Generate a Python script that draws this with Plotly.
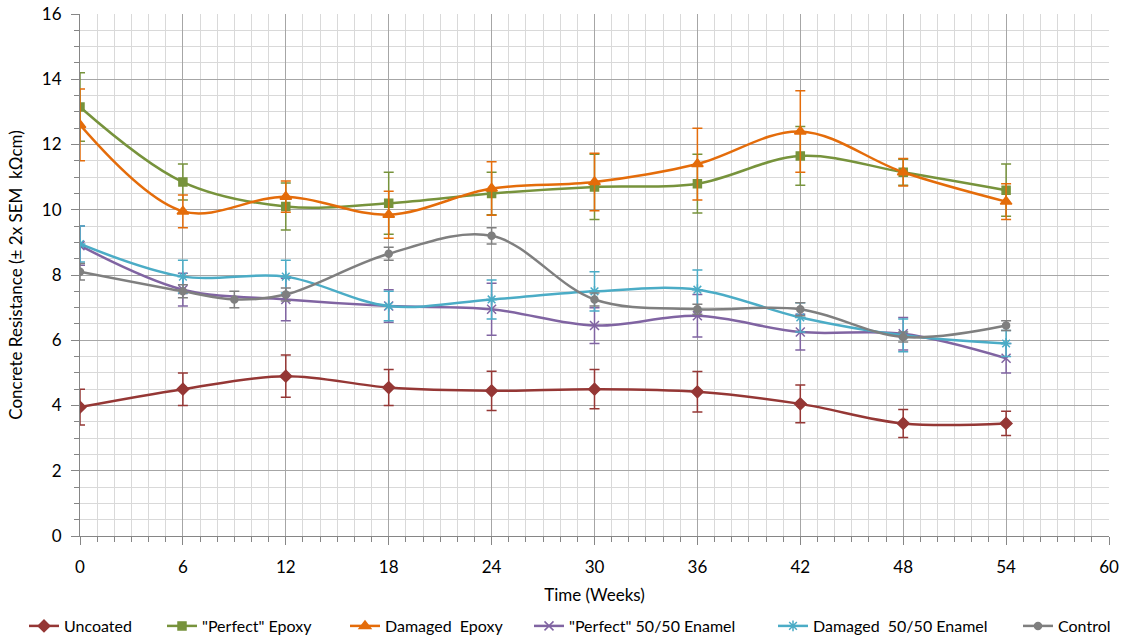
import plotly.graph_objects as go

weeks = [0, 6, 12, 18, 24, 30, 36, 42, 48, 54]
control_weeks = [0, 6, 9, 12, 18, 24, 30, 36, 42, 48, 54]

uncoated = [3.95, 4.5, 4.9, 4.55, 4.45, 4.5, 4.42, 4.05, 3.45, 3.45]
uncoated_err = [0.55, 0.5, 0.65, 0.55, 0.6, 0.6, 0.62, 0.58, 0.43, 0.37]

perfect_epoxy = [13.15, 10.85, 10.1, 10.2, 10.5, 10.7, 10.8, 11.65, 11.15, 10.6]
perfect_epoxy_err = [1.05, 0.55, 0.72, 0.95, 0.65, 1.0, 0.9, 0.9, 0.4, 0.8]

damaged_epoxy = [12.6, 9.95, 10.4, 9.85, 10.65, 10.85, 11.4, 12.4, 11.15, 10.25]
damaged_epoxy_err = [1.1, 0.5, 0.48, 0.72, 0.82, 0.88, 1.1, 1.25, 0.42, 0.55]

perfect_enamel = [8.9, 7.55, 7.25, 7.05, 6.95, 6.45, 6.75, 6.25, 6.2, 5.45]
perfect_enamel_err = [0.6, 0.5, 0.65, 0.5, 0.8, 0.55, 0.65, 0.55, 0.5, 0.45]

damaged_enamel = [8.95, 7.95, 7.95, 7.05, 7.25, 7.5, 7.55, 6.7, 6.15, 5.9]
damaged_enamel_err = [0.55, 0.5, 0.5, 0.45, 0.6, 0.6, 0.6, 0.45, 0.5, 0.4]

control = [8.1, 7.5, 7.25, 7.4, 8.65, 9.2, 7.25, 6.95, 6.95, 6.1, 6.45]
control_err = [0.25, 0.2, 0.25, 0.2, 0.2, 0.25, 0.2, 0.15, 0.2, 0.15, 0.15]

series = [
    ("Uncoated", weeks, uncoated, uncoated_err, "#953735", "diamond", 9),
    ("\"Perfect\" Epoxy", weeks, perfect_epoxy, perfect_epoxy_err, "#77933C", "square", 8),
    ("Damaged  Epoxy", weeks, damaged_epoxy, damaged_epoxy_err, "#E46C0A", "triangle-up", 10),
    ("\"Perfect\" 50/50 Enamel", weeks, perfect_enamel, perfect_enamel_err, "#8064A2", "x-thin-open", 9),
    ("Damaged  50/50 Enamel", weeks, damaged_enamel, damaged_enamel_err, "#4BACC6", "asterisk-open", 9),
    ("Control", control_weeks, control, control_err, "#7F7F7F", "circle", 7),
]

# left pixel of each legend entry's line in the reference
legend_px = [28, 166, 349, 533, 777, 1022]

W, H = 1122, 640
ML, MR, MT, MB = 80, 13, 14, 104
plot_w = W - ML - MR
plot_h = H - MT - MB

font_family = "Lato, Liberation Sans, sans-serif"
axis_font = dict(family=font_family, size=17, color="#000000")
legend_font = dict(family=font_family, size=16, color="#000000")

fig = go.Figure()
layout_legends = {}
for i, (name, xs, ys, es, color, sym, size) in enumerate(series):
    lname = "legend" if i == 0 else f"legend{i + 1}"
    fig.add_trace(go.Scatter(
        x=xs, y=ys, name=name, mode="lines+markers",
        legend=lname,
        line=dict(color=color, width=2.5, shape="spline", smoothing=1.0),
        marker=dict(symbol=sym, size=size, color=color,
                    line=dict(color=color, width=1.5)),
        error_y=dict(type="data", array=es, visible=True, color=color,
                     thickness=1.5, width=5),
    ))
    layout_legends[lname] = dict(
        orientation="h", xanchor="left", yanchor="middle",
        x=(legend_px[i] - 4 - ML) / plot_w,
        y=(H - MB - 626) / plot_h,
        font=legend_font, bgcolor="rgba(0,0,0,0)", itemwidth=30,
    )

fig.update_layout(
    width=W, height=H,
    margin=dict(l=ML, r=MR, t=MT, b=MB, autoexpand=False),
    paper_bgcolor="white", plot_bgcolor="white",
    font=axis_font,
    showlegend=True,
    **layout_legends,
)
fig.update_xaxes(
    range=[0, 60], dtick=6, tick0=0, automargin=False,
    showgrid=True, gridcolor="#A6A6A6", gridwidth=1,
    showline=True, linecolor="#868686", linewidth=1,
    ticks="outside", ticklen=8, tickcolor="#868686",
    ticklabelstandoff=8, ticklabeloverflow="allow",
    zeroline=False,
    minor=dict(dtick=1, showgrid=True, gridcolor="#D9D9D9", gridwidth=1,
               ticks="outside", ticklen=5, tickcolor="#868686"),
    title=dict(text="Time (Weeks)", font=axis_font, standoff=12),
    tickfont=axis_font,
)
fig.update_yaxes(
    range=[0, 16], dtick=2, tick0=0, automargin=False,
    showgrid=True, gridcolor="#A6A6A6", gridwidth=1,
    showline=True, linecolor="#868686", linewidth=1,
    ticks="outside", ticklen=8, tickcolor="#868686",
    ticklabelstandoff=6, ticklabeloverflow="allow",
    zeroline=False,
    minor=dict(dtick=0.5, showgrid=True, gridcolor="#D9D9D9", gridwidth=1,
               ticks="outside", ticklen=5, tickcolor="#868686"),
    title=dict(text="Concrete Resistance (± 2x SEM  kΩcm)", font=axis_font, standoff=14),
    tickfont=axis_font,
)

fig.write_html(
    "out.html",
    config={"displayModeBar": False},
    post_script="document.body.style.margin='0';document.documentElement.style.overflow='hidden';document.body.style.overflow='hidden';",
)
